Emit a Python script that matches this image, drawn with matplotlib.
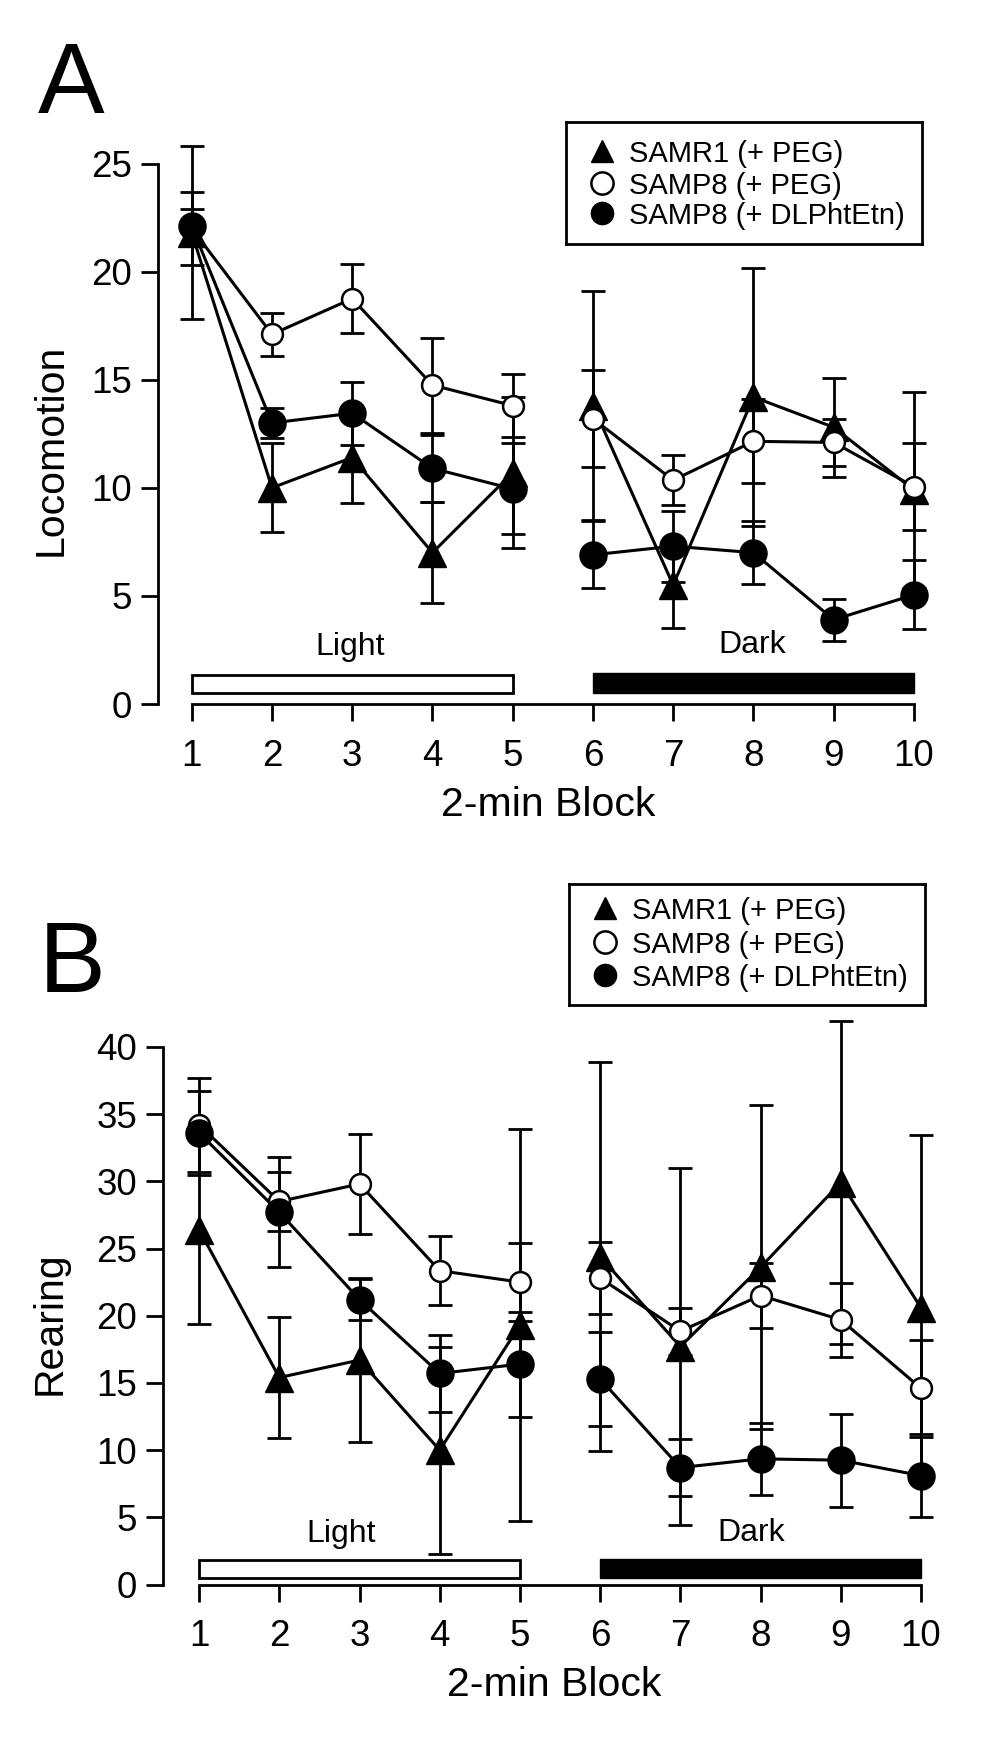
import numpy as np
import matplotlib
matplotlib.use("Agg")
import matplotlib.pyplot as plt
from matplotlib.patches import Rectangle

plt.rcParams['font.family'] = ['Liberation Sans', 'DejaVu Sans']

# 2-min blocks; 1-5 light phase, 6-10 dark phase
blocks = np.arange(1, 11)
light_blocks = (1, 5)
dark_blocks = (6, 10)

labels = ['SAMR1 (+ PEG)', 'SAMP8 (+ PEG)', 'SAMP8 (+ DLPhtEtn)']

# A: locomotion (mean, error)
loco_samr1 = [21.8, 10.0, 11.4, 7.0, 10.7, 13.8, 5.5, 14.2, 12.8, 9.9]
loco_samr1_err = [4.0, 2.05, 2.1, 2.35, 3.5, 5.3, 2.0, 5.95, 2.3, 4.55]
loco_samp8 = [22.0, 17.1, 18.75, 14.75, 13.8, 13.2, 10.35, 12.15, 12.1, 10.05]
loco_samp8_err = [1.7, 1.0, 1.6, 2.2, 1.45, 2.25, 1.15, 1.95, 1.1, 2.0]
loco_dl = [22.1, 13.0, 13.45, 10.9, 9.95, 6.9, 7.3, 7.0, 3.9, 5.05]
loco_dl_err = [0.8, 0.7, 1.45, 1.55, 2.1, 1.55, 1.65, 1.45, 0.97, 1.6]

# B: rearing (mean, error)
rear_samr1 = [26.4, 15.4, 16.7, 10.0, 19.3, 24.4, 17.7, 23.6, 29.9, 20.6]
rear_samr1_err = [7.0, 4.5, 6.1, 7.7, 14.6, 14.5, 13.3, 12.05, 12.0, 12.85]
rear_samp8 = [34.2, 28.5, 29.8, 23.35, 22.5, 22.8, 18.85, 21.5, 19.7, 14.6]
rear_samp8_err = [3.5, 2.2, 3.7, 2.55, 2.9, 2.65, 1.75, 2.4, 2.75, 3.6]
rear_dl = [33.6, 27.7, 21.2, 15.7, 16.4, 15.3, 8.7, 9.35, 9.25, 8.1]
rear_dl_err = [3.1, 4.1, 1.5, 2.9, 3.9, 3.5, 2.1, 2.7, 3.45, 3.1]

styles = [
    dict(marker='^', ms=19.5, mfc='black', mec='black', mew=1.0),
    dict(marker='o', ms=15, mfc='white', mec='black', mew=1.8),
    dict(marker='o', ms=19.5, mfc='black', mec='black', mew=1.0),
]

W, H = 1007, 1743
fig = plt.figure(figsize=(W / 100, H / 100), dpi=100)


def panel(rect, xlim, series, ylim, ybound, yticks, ylabel, ylab_xy,
          light_y, dark_y, light_txt, dark_txt):
    ax = fig.add_axes(rect)
    for (y, e), st in zip(series, styles):
        y = np.asarray(y)
        e = np.asarray(e)
        ax.errorbar(blocks, y, yerr=e, fmt='none', ecolor='black', elinewidth=2.0,
                    capsize=8.3, capthick=2.0, clip_on=False, zorder=2)
        # light and dark phases are not joined
        for lo, hi in (light_blocks, dark_blocks):
            m = (blocks >= lo) & (blocks <= hi)
            ax.plot(blocks[m], y[m], color='black', lw=2.2, clip_on=False, zorder=3)
            ax.plot(blocks[m], y[m], ls='none', clip_on=False, zorder=4, **st)

    # light / dark bars
    ax.add_patch(Rectangle((light_blocks[0], light_y[0]), light_blocks[1] - light_blocks[0],
                           light_y[1] - light_y[0], facecolor='white', edgecolor='black',
                           lw=2.0, zorder=2))
    ax.add_patch(Rectangle((dark_blocks[0], dark_y[0]), dark_blocks[1] - dark_blocks[0],
                           dark_y[1] - dark_y[0], facecolor='black', edgecolor='black',
                           lw=1.0, zorder=2))
    ax.text(light_txt[0], light_txt[1], 'Light', fontsize=23, ha='center', va='baseline')
    ax.text(dark_txt[0], dark_txt[1], 'Dark', fontsize=23, ha='center', va='baseline')

    ax.set_xlim(*xlim)
    ax.set_ylim(*ylim)
    ax.set_xticks(blocks)
    ax.set_yticks(yticks)
    for s in ('top', 'right'):
        ax.spines[s].set_visible(False)
    ax.spines['left'].set_bounds(*ybound)
    ax.spines['bottom'].set_bounds(1, 10)
    for s in ('left', 'bottom'):
        ax.spines[s].set_linewidth(2.0)
    ax.tick_params(axis='both', direction='out', length=12, width=2.0, labelsize=26.5)
    ax.tick_params(axis='x', pad=13)
    ax.tick_params(axis='y', pad=6.5)
    ax.set_xlabel('2-min Block', fontsize=29.5)
    ax.set_ylabel(ylabel, fontsize=29.5)
    ax.yaxis.set_label_coords(*ylab_xy)
    return ax


def legend_box(rect, rows):
    lg = fig.add_axes(rect)
    lg.set_xlim(0, 1)
    lg.set_ylim(0, 1)
    lg.set_xticks([])
    lg.set_yticks([])
    for s in lg.spines.values():
        s.set_linewidth(2.0)
    for lab, st, yy in zip(labels, styles, rows):
        st2 = dict(st)
        st2['ms'] = 16
        lg.plot([0.10], [yy], ls='none', **st2)
        lg.text(0.177, yy, lab, fontsize=21, ha='left', va='center_baseline')


# panel A
axA = panel([158 / W, (H - 704) / H, 780 / W, 583.7 / H], (0.58, 10.3),
            [(loco_samr1, loco_samr1_err), (loco_samp8, loco_samp8_err), (loco_dl, loco_dl_err)],
            (0, 27), (0, 25), [0, 5, 10, 15, 20, 25], 'Locomotion', (-0.113, 0.435),
            (0.52, 1.34), (0.52, 1.42), (2.97, 2.27), (7.98, 2.37))
axA.xaxis.set_label_coords(0.5, -0.1405)
legend_box([566 / W, 1 - 244 / H, 356 / W, 122 / H], [0.762, 0.5, 0.254])
fig.text(38 / W, 1 - 113 / H, 'A', fontsize=72, ha='left', va='baseline')

# panel B
axB = panel([163 / W, (H - 1584.5) / H, 782 / W, 571.2 / H], (0.55, 10.3),
            [(rear_samr1, rear_samr1_err), (rear_samp8, rear_samp8_err), (rear_dl, rear_dl_err)],
            (0, 42.5), (0, 40), [0, 5, 10, 15, 20, 25, 30, 35, 40], 'Rearing', (-0.121, 0.458),
            (0.5, 1.82), (0.45, 1.9), (2.77, 3.18), (7.88, 3.24))
axB.xaxis.set_label_coords(0.5, -0.1427)
legend_box([569 / W, 1 - 1005 / H, 356 / W, 121 / H], [0.805, 0.52, 0.245])
fig.text(39 / W, 1 - 992 / H, 'B', fontsize=72, ha='left', va='baseline')

fig.savefig('out.png', dpi=100)
